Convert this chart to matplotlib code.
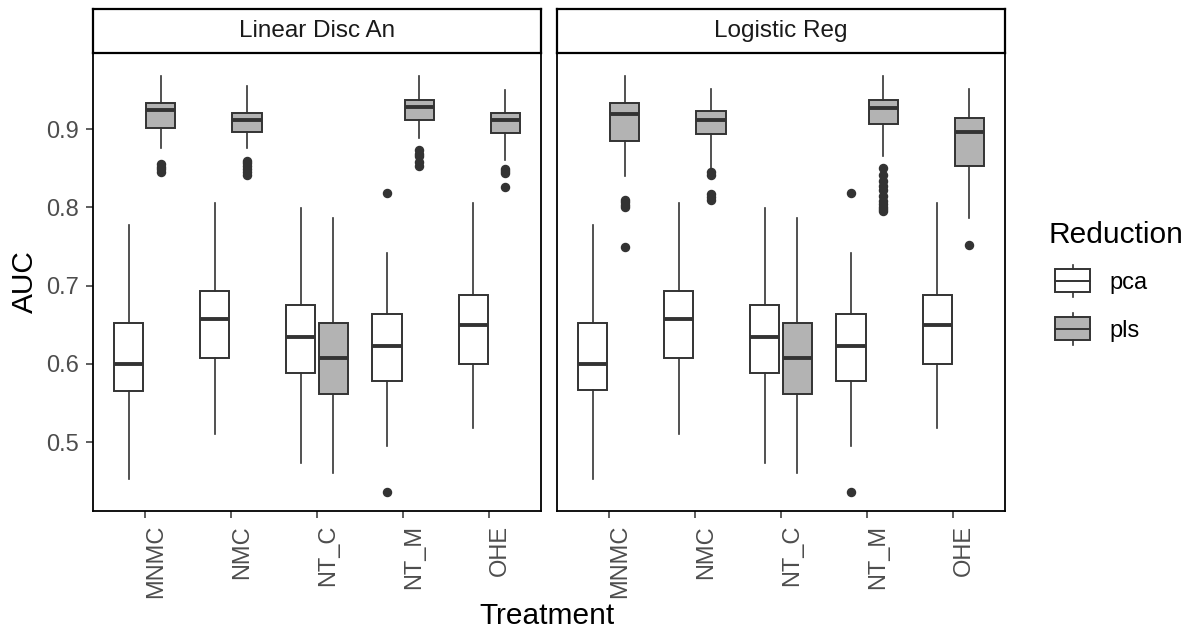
import numpy as np
import matplotlib
matplotlib.use("Agg")
from matplotlib import pyplot as plt
from matplotlib.legend_handler import HandlerBase
from matplotlib.patches import Patch, Rectangle
from matplotlib.lines import Line2D

plt.rcParams['font.family'] = ['Liberation Sans', 'DejaVu Sans']

treatments = ["MNMC", "NMC", "NT_C", "NT_M", "OHE"]
models = ["Linear Disc An", "Logistic Reg"]

# Linear Disc An - pca
lda_pca_lo = [0.453, 0.510, 0.474, 0.495, 0.518]
lda_pca_q1 = [0.565, 0.608, 0.588, 0.578, 0.600]
lda_pca_med = [0.600, 0.658, 0.635, 0.623, 0.650]
lda_pca_q3 = [0.652, 0.693, 0.675, 0.664, 0.688]
lda_pca_hi = [0.778, 0.806, 0.799, 0.742, 0.806]
lda_pca_out = [[], [], [], [0.818, 0.436], []]

# Linear Disc An - pls
lda_pls_lo = [0.876, 0.876, 0.461, 0.889, 0.861]
lda_pls_q1 = [0.902, 0.897, 0.561, 0.912, 0.895]
lda_pls_med = [0.924, 0.912, 0.607, 0.929, 0.912]
lda_pls_q3 = [0.934, 0.921, 0.652, 0.938, 0.921]
lda_pls_hi = [0.968, 0.955, 0.786, 0.968, 0.950]
lda_pls_out = [[0.846, 0.849, 0.852, 0.855],
               [0.841, 0.845, 0.849, 0.853, 0.857, 0.860],
               [],
               [0.853, 0.858, 0.866, 0.869, 0.873],
               [0.826, 0.844, 0.847, 0.849]]

# Logistic Reg - pca
lr_pca_lo = [0.453, 0.510, 0.474, 0.495, 0.518]
lr_pca_q1 = [0.567, 0.608, 0.588, 0.578, 0.600]
lr_pca_med = [0.600, 0.658, 0.635, 0.623, 0.650]
lr_pca_q3 = [0.652, 0.693, 0.675, 0.664, 0.688]
lr_pca_hi = [0.778, 0.806, 0.799, 0.742, 0.806]
lr_pca_out = [[], [], [], [0.818, 0.436], []]

# Logistic Reg - pls
lr_pls_lo = [0.840, 0.851, 0.461, 0.866, 0.787]
lr_pls_q1 = [0.885, 0.8945, 0.561, 0.907, 0.853]
lr_pls_med = [0.919, 0.9115, 0.607, 0.927, 0.897]
lr_pls_q3 = [0.934, 0.9235, 0.652, 0.938, 0.915]
lr_pls_hi = [0.968, 0.952, 0.786, 0.968, 0.952]
lr_pls_out = [[0.749, 0.800, 0.803, 0.807, 0.810],
              [0.810, 0.813, 0.817, 0.842, 0.845],
              [],
              [0.795, 0.798, 0.801, 0.804, 0.808, 0.815, 0.822, 0.828, 0.834, 0.841, 0.851],
              [0.752]]


def make_stats(lo, q1, med, q3, hi, out):
    return [dict(whislo=a, q1=b, med=c, q3=d, whishi=e, fliers=f)
            for a, b, c, d, e, f in zip(lo, q1, med, q3, hi, out)]


data = {
    "Linear Disc An": {
        "pca": make_stats(lda_pca_lo, lda_pca_q1, lda_pca_med, lda_pca_q3, lda_pca_hi, lda_pca_out),
        "pls": make_stats(lda_pls_lo, lda_pls_q1, lda_pls_med, lda_pls_q3, lda_pls_hi, lda_pls_out),
    },
    "Logistic Reg": {
        "pca": make_stats(lr_pca_lo, lr_pca_q1, lr_pca_med, lr_pca_q3, lr_pca_hi, lr_pca_out),
        "pls": make_stats(lr_pls_lo, lr_pls_q1, lr_pls_med, lr_pls_q3, lr_pls_hi, lr_pls_out),
    },
}

fills = {"pca": "white", "pls": "#B3B3B3"}
offsets = {"pca": -0.1875, "pls": 0.1875}
line_col = "#333333"

W, H = 1187, 636
fig = plt.figure(figsize=(W / 100, H / 100), dpi=100)


def px_axes(left, right, top, bottom):
    return fig.add_axes([left / W, 1 - bottom / H, (right - left) / W, (bottom - top) / H])


panels = [(93, 541), (557, 1005)]
x = np.arange(1, len(treatments) + 1)

for i, (model, (l, r)) in enumerate(zip(models, panels)):
    ax = px_axes(l, r, 53, 511)
    for red in ["pca", "pls"]:
        ax.bxp(data[model][red], positions=x + offsets[red], widths=0.3375,
               patch_artist=True, showcaps=False, manage_ticks=False,
               boxprops=dict(facecolor=fills[red], edgecolor=line_col, linewidth=1.4),
               medianprops=dict(color=line_col, linewidth=2.8, solid_capstyle='butt'),
               whiskerprops=dict(color=line_col, linewidth=1.2),
               flierprops=dict(marker='o', markerfacecolor=line_col, markeredgecolor=line_col,
                               markersize=5.8, linestyle='none'))
    ax.set_xlim(0.4, 5.6)
    ax.set_ylim(0.412, 0.9975)
    ax.set_xticks(x)
    ax.set_xticklabels(treatments, rotation=90, ha='left', va='top',
                       fontsize=17, color='#4D4D4D')
    ax.set_yticks([0.5, 0.6, 0.7, 0.8, 0.9])
    for s in ax.spines.values():
        s.set_color('black')
        s.set_linewidth(1.3)
    ax.tick_params(axis='both', color=line_col, length=5, width=1.1, pad=5)
    if i == 0:
        ax.set_yticklabels(["0.5", "0.6", "0.7", "0.8", "0.9"], fontsize=17, color='#4D4D4D')
        ax.set_ylabel("AUC", fontsize=21.5, labelpad=5)
    else:
        ax.tick_params(axis='y', left=False, labelleft=False)

    # facet strip
    sx = px_axes(l, r, 9, 53)
    sx.set_xticks([])
    sx.set_yticks([])
    for s in sx.spines.values():
        s.set_color('black')
        s.set_linewidth(1.6)
    sx.text(0.5, 0.5, model, ha='center', va='center', fontsize=17.5, color='#1A1A1A',
            transform=sx.transAxes)

fig.text(547 / W, 1 - 616 / H, "Treatment", ha='center', va='center', fontsize=21.5)


class BoxHandler(HandlerBase):
    def create_artists(self, legend, orig_handle, xdescent, ydescent, width, height, fontsize, trans):
        # keys sit a little indented from the legend title
        x0, y0 = -xdescent + 5, -ydescent
        box = Rectangle((x0, y0 + height * 0.15), width, height * 0.7,
                        facecolor=orig_handle.get_facecolor(), edgecolor=line_col,
                        linewidth=1.4, transform=trans)
        xm = x0 + width / 2
        med = Line2D([x0, x0 + width], [y0 + height / 2] * 2, color=line_col, linewidth=1.4, transform=trans)
        w1 = Line2D([xm, xm], [y0, y0 + height * 0.15], color=line_col, linewidth=1.2, transform=trans)
        w2 = Line2D([xm, xm], [y0 + height * 0.85, y0 + height], color=line_col, linewidth=1.2, transform=trans)
        return [box, med, w1, w2]


handles = [Patch(facecolor=fills["pca"]), Patch(facecolor=fills["pls"])]
fig.legend(handles, ["pca", "pls"], title="Reduction", loc='upper left',
           bbox_to_anchor=(1027 / W, 1 - 200 / H), frameon=False,
           handler_map={Patch: BoxHandler()}, fontsize=17, title_fontsize=21.5,
           handlelength=1.48, handleheight=1.75, handletextpad=1.1, labelspacing=0.65,
           alignment='left')

fig.savefig("out.png", dpi=100)
